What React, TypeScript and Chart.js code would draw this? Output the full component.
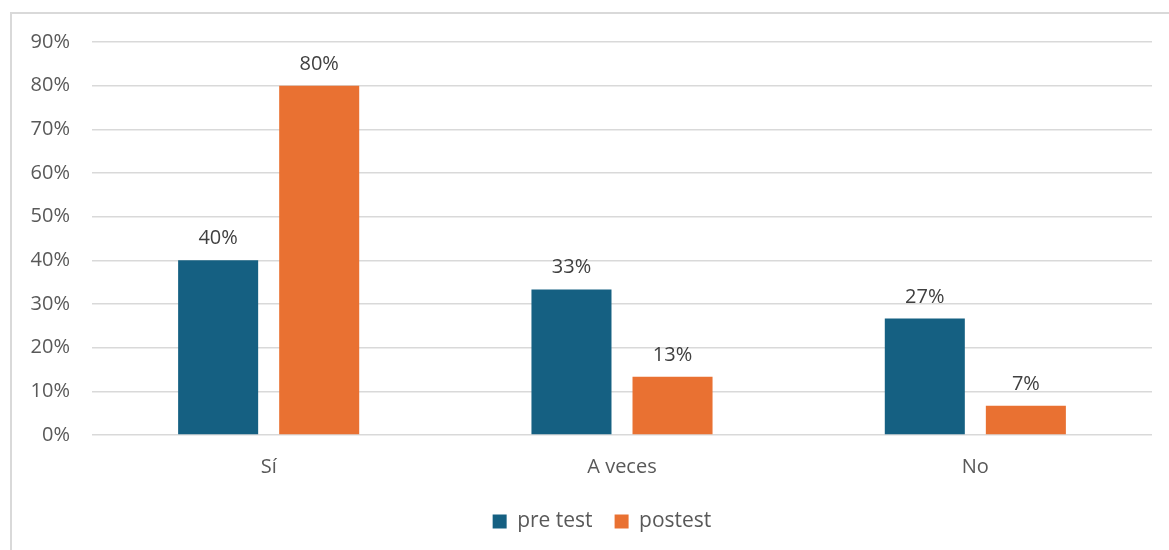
import React, { useEffect, useRef } from "react";
import { Chart, registerables } from "chart.js";

Chart.register(...registerables);

const categories = ["Sí", "A veces", "No"];
const preTest = [40, 33.33, 26.67];
const postTest = [80, 13.33, 6.67];
const seriesNames = ["pre test", "postest"];
const yTicksMax = 90;

const FONT = "'Open Sans', sans-serif";

const dataLabels = {
  id: "dataLabels",
  afterDatasetsDraw(chart: any) {
    const ctx = chart.ctx;
    ctx.save();
    ctx.font = `20px ${FONT}`;
    ctx.fillStyle = "#404040";
    ctx.textAlign = "center";
    ctx.textBaseline = "alphabetic";
    chart.data.datasets.forEach((ds: any, i: number) => {
      const meta = chart.getDatasetMeta(i);
      meta.data.forEach((el: any, j: number) => {
        const v = ds.data[j];
        ctx.fillText(Math.round(v) + "%", el.x, el.y - 16);
      });
    });
    ctx.restore();
  },
};

const legendShift = {
  id: "legendShift",
  afterLayout(chart: any) {
    const l = chart.legend;
    if (l) {
      l.left += 26;
      l.right += 26;
    }
  },
};

export default function App() {
  const ref = useRef<HTMLCanvasElement>(null);
  useEffect(() => {
    const chart = new Chart(ref.current!, {
      type: "bar",
      data: {
        labels: categories,
        datasets: [
          { label: seriesNames[0], data: preTest, backgroundColor: "#156082" },
          { label: seriesNames[1], data: postTest, backgroundColor: "#E97132" },
        ],
      },
      options: {
        animation: false,
        responsive: false,
        maintainAspectRatio: false,
        layout: { padding: { top: 42, right: 17, bottom: 8, left: 0 } },
        datasets: {
          bar: { categoryPercentage: 0.572, barPercentage: 0.792 },
        },
        scales: {
          x: {
            grid: { display: false, drawTicks: false },
            border: { display: false },
            ticks: { color: "#595959", font: { family: FONT, size: 20 }, padding: 20 },
            afterFit(scale: any) {
              scale.height = 54;
            },
          },
          y: {
            min: 0,
            max: yTicksMax,
            grid: { color: "#d9d9d9", lineWidth: 1.5, drawTicks: false },
            border: { display: false },
            ticks: {
              stepSize: 10,
              color: "#595959",
              font: { family: FONT, size: 20 },
              padding: 22,
              callback: (v: any) => v + "%",
            },
            afterFit(scale: any) {
              scale.width = 92;
            },
          },
        },
        plugins: {
          legend: {
            position: "bottom",
            labels: {
              boxWidth: 14,
              boxHeight: 14,
              color: "#595959",
              font: { family: FONT, size: 21 },
              padding: 22,
            },
          },
          tooltip: { enabled: false },
        },
      },
      plugins: [dataLabels, legendShift],
    });
    return () => chart.destroy();
  }, []);
  return (
    <div style={{ position: "absolute", left: 0, top: 0, width: 1169, height: 550, overflow: "hidden", background: "#fff" }}>
      <div
        style={{
          position: "absolute",
          left: 10,
          top: 12,
          width: 1200,
          height: 600,
          border: "2px solid #d9d9d9",
          boxSizing: "border-box",
        }}
      />
      <canvas ref={ref} width={1169} height={550} style={{ position: "absolute", left: 0, top: 0 }} />
    </div>
  );
}
